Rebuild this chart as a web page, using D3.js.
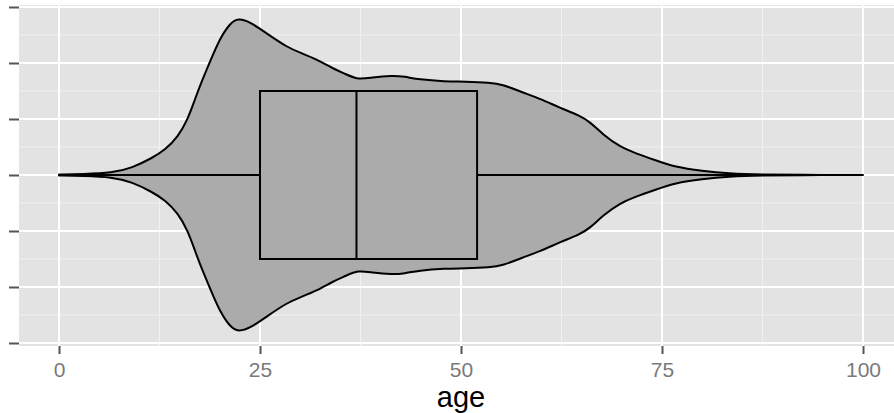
<!DOCTYPE html>
<html>
<head>
<meta charset="utf-8">
<script src="https://cdn.jsdelivr.net/npm/d3@7"></script>
<style>
  html, body { margin: 0; padding: 0; background: #ffffff; }
  svg { display: block; }
  text { font-family: "Liberation Sans", Arial, Helvetica, sans-serif; }
</style>
</head>
<body>
<svg id="chart" width="894" height="413"></svg>
<script>
// Age axis ticks (major) and minor gridline positions
const ageTicks = [0, 25, 50, 75, 100];
const ageMinor = [12.5, 37.5, 62.5, 87.5];
// Vertical (unlabelled) axis ticks and minor gridlines
const yTicks = [-3, -2, -1, 0, 1, 2, 3];
const yMinor = [-2.5, -1.5, -0.5, 0.5, 1.5, 2.5];

// Kernel density of age, scaled so the widest point equals 1
const violinAge = [0, 3, 6.6, 9.1, 11.6, 13.2, 14.8, 16.0, 16.9, 17.5, 18.8, 20.0, 21.3, 22.3,
  23.8, 25.9, 28.4, 30.0, 32.1, 34.1, 35.6, 37.2, 38.9, 41.4, 43.0, 44.7, 48.0, 50.5, 53.6,
  55.2, 57.7, 59.8, 62.3, 64.8, 66.0, 67.7, 69.8, 71.6, 74.1, 76.6, 80.0, 83.2, 87.6, 92, 100];
const violinDensity = [0.003, 0.006, 0.013, 0.045, 0.109, 0.160, 0.244, 0.353, 0.481, 0.565,
  0.725, 0.870, 0.970, 1.000, 0.976, 0.900, 0.814, 0.780, 0.737, 0.678, 0.645, 0.607, 0.622,
  0.635, 0.628, 0.609, 0.596, 0.596, 0.590, 0.577, 0.526, 0.487, 0.429, 0.378, 0.340, 0.256,
  0.179, 0.141, 0.096, 0.051, 0.026, 0.010, 0.003, 0.001, 0];

// Five-number summary for the box plot
const boxStats = { min: 0, q1: 25, median: 37, q3: 52, max: 100 };

const svg = d3.select("#chart");
const panel = { left: 19, right: 894, top: 5, bottom: 346 };

const x = d3.scaleLinear().domain([0, 100]).range([59, 863]);
const y = d3.scaleLinear().domain([-3, 3]).range([343, 7]);
const violinHalf = d3.scaleLinear().domain([0, 1]).range([0, 2.8]);
const boxHalf = 1.5;

// Panel background
svg.append("rect")
  .attr("x", panel.left).attr("y", panel.top)
  .attr("width", panel.right - panel.left).attr("height", panel.bottom - panel.top)
  .attr("fill", "#e3e3e3");

const grid = svg.append("g");
// minor gridlines
grid.selectAll("line.vminor").data(ageMinor).join("line")
  .attr("x1", d => x(d)).attr("x2", d => x(d))
  .attr("y1", panel.top).attr("y2", panel.bottom)
  .attr("stroke", "#f1f1f1").attr("stroke-width", 1);
grid.selectAll("line.hminor").data(yMinor).join("line")
  .attr("y1", d => y(d)).attr("y2", d => y(d))
  .attr("x1", panel.left).attr("x2", panel.right)
  .attr("stroke", "#f1f1f1").attr("stroke-width", 1);
// major gridlines
grid.selectAll("line.vmajor").data(ageTicks).join("line")
  .attr("x1", d => x(d)).attr("x2", d => x(d))
  .attr("y1", panel.top).attr("y2", panel.bottom)
  .attr("stroke", "#ffffff").attr("stroke-width", 2);
grid.selectAll("line.hmajor").data(yTicks).join("line")
  .attr("y1", d => y(d)).attr("y2", d => y(d))
  .attr("x1", panel.left).attr("x2", panel.right)
  .attr("stroke", "#ffffff").attr("stroke-width", 2);

// Violin
const violinData = violinAge.map((a, i) => ({ age: a, w: violinHalf(violinDensity[i]) }));
const area = d3.area()
  .x(d => x(d.age))
  .y0(d => y(-d.w))
  .y1(d => y(d.w))
  .curve(d3.curveBasis);
svg.append("path")
  .datum(violinData)
  .attr("d", area)
  .attr("fill", "#ababab")
  .attr("stroke", "#000000")
  .attr("stroke-width", 2)
  .attr("stroke-linejoin", "round");

// Box plot
const boxG = svg.append("g");
boxG.append("line")
  .attr("x1", x(boxStats.min)).attr("x2", x(boxStats.q1))
  .attr("y1", y(0)).attr("y2", y(0))
  .attr("stroke", "#000").attr("stroke-width", 2);
boxG.append("line")
  .attr("x1", x(boxStats.q3)).attr("x2", x(boxStats.max))
  .attr("y1", y(0)).attr("y2", y(0))
  .attr("stroke", "#000").attr("stroke-width", 2);
boxG.append("rect")
  .attr("x", x(boxStats.q1)).attr("y", y(boxHalf))
  .attr("width", x(boxStats.q3) - x(boxStats.q1))
  .attr("height", y(-boxHalf) - y(boxHalf))
  .attr("fill", "#ababab").attr("stroke", "#000").attr("stroke-width", 2);
boxG.append("line")
  .attr("x1", x(boxStats.median)).attr("x2", x(boxStats.median))
  .attr("y1", y(boxHalf)).attr("y2", y(-boxHalf))
  .attr("stroke", "#000").attr("stroke-width", 2);

// X axis
const xAxis = d3.axisBottom(x).tickValues(ageTicks).tickSize(8).tickPadding(8).tickFormat(d3.format("d"));
const xg = svg.append("g").attr("transform", `translate(0,${panel.bottom})`).call(xAxis);
xg.select(".domain").remove();
xg.selectAll(".tick line").attr("stroke", "#555").attr("stroke-width", 2);
xg.selectAll(".tick text").attr("fill", "#7a7a7a").attr("font-size", 21)
  .attr("font-family", "Liberation Sans, Arial, sans-serif");

// Y axis (ticks only)
const yAxis = d3.axisLeft(y).tickValues(yTicks).tickSize(10).tickFormat("");
const yg = svg.append("g").attr("transform", `translate(${panel.left},0)`).call(yAxis);
yg.select(".domain").remove();
yg.selectAll(".tick line").attr("stroke", "#555").attr("stroke-width", 2);

// Axis title
svg.append("text")
  .attr("x", x(50)).attr("y", 407)
  .attr("text-anchor", "middle")
  .attr("font-size", 29)
  .attr("fill", "#000")
  .text("age");
</script>
</body>
</html>
